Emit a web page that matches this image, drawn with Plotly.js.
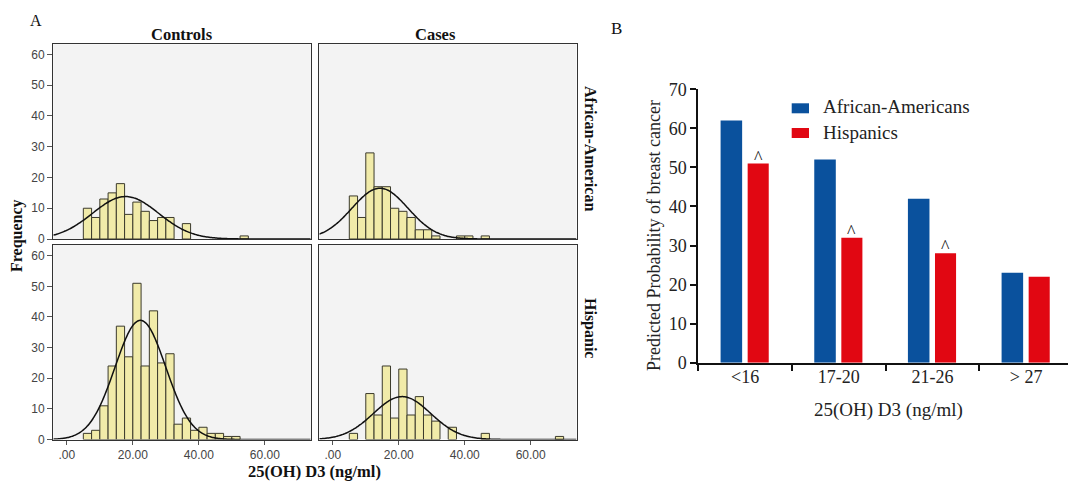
<!DOCTYPE html>
<html>
<head>
<meta charset="utf-8">
<script src="https://cdn.plot.ly/plotly-3.0.1.min.js"></script>
<style>html,body{margin:0;padding:0;background:#fff;}#chart{width:1068px;height:481px;}</style>
</head>
<body>
<div id="chart"></div>
<script>
// ---------- Panel A data (histograms, bin width 2.5) ----------
const binLefts = [5,7.5,10,12.5,15,17.5,20,22.5,25,27.5,30,32.5,35,37.5,40,42.5,45,47.5,50,52.5,55,57.5,60,62.5,65,67.5];
const controlsAfrAm = [10,7,13,15,18,8,12,9,6,7,7,0,5,0,0,0,0,0,0,1,0,0,0,0,0,0];
const casesAfrAm    = [14,7,28,17,17,10,9,7,3,3,1,0,0,1,1,0,1,0,0,0,0,0,0,0,0,0];
const controlsHisp  = [2,3,11,24,37,27,51,24,42,25,28,5,7,3,4,2,2,1,1,0,0,0,0,0,0,0];
const casesHisp     = [2,0,15,8,24,7,23,8,14,8,6,0,4,0,0,0,2,0,0,0,0,0,0,0,0,1];
// fitted normal curves: [mean, sd, peak height]
const fitControlsAfrAm = [17.8, 10.0, 13.8];
const fitCasesAfrAm    = [14.3, 8.5, 16.5];
const fitControlsHisp  = [22.3, 7.7, 38.9];
const fitCasesHisp     = [21.0, 8.7, 14.0];
const histTickVals = [0,20,40,60];
const histTickText = ['.00','20.00','40.00','60.00'];
const freqTickVals = [0,10,20,30,40,50,60];

// ---------- Panel B data ----------
const groups = ['<16','17-20','21-26','> 27'];
const africanAmericans = [62,52,42,23];
const hispanics = [51,32,28,22];
const significant = [true,true,true,false];

const BIN_W = 2.5;
const barFill = '#f1eba9';
const barLine = '#3b3a2c';
const blue = '#0a519d';
const red = '#e10712';

function histTrace(counts, xa, ya){
  const xs=[], ys=[];
  counts.forEach((c,i)=>{ if(c>0){ xs.push(binLefts[i]); ys.push(c);} });
  return {type:'bar', x:xs, y:ys, width:BIN_W, offset:0, xaxis:xa, yaxis:ya,
    marker:{color:barFill, line:{color:barLine, width:1}}, showlegend:false, hoverinfo:'x+y'};
}
function curveTrace(fit, xa, ya){
  const [m,s,p] = fit; const xs=[], ys=[];
  for(let x=-4.1; x<=73.9; x+=0.4){ xs.push(x); ys.push(p*Math.exp(-(x-m)*(x-m)/(2*s*s))); }
  return {type:'scatter', mode:'lines', x:xs, y:ys, xaxis:xa, yaxis:ya,
    line:{color:'#111', width:1.5, shape:'spline'}, showlegend:false, hoverinfo:'skip'};
}

const W=1068, H=481;
const px = v => v/W, py = v => 1 - v/H;

const traces = [
  histTrace(controlsAfrAm,'x','y'), curveTrace(fitControlsAfrAm,'x','y'),
  histTrace(casesAfrAm,'x2','y2'), curveTrace(fitCasesAfrAm,'x2','y2'),
  histTrace(controlsHisp,'x3','y3'), curveTrace(fitControlsHisp,'x3','y3'),
  histTrace(casesHisp,'x4','y4'), curveTrace(fitCasesHisp,'x4','y4'),
  {type:'bar', name:'African-Americans', x:groups, y:africanAmericans, xaxis:'x5', yaxis:'y5',
    width:0.23, offset:-0.262, marker:{color:blue}, showlegend:false},
  {type:'bar', name:'Hispanics', x:groups, y:hispanics, xaxis:'x5', yaxis:'y5',
    width:0.225, offset:0.027, marker:{color:red}, showlegend:false}
];

const frameX = (dom, anchor, showLabels) => ({
  domain:dom, anchor:anchor, range:[-4.1,73.9], showgrid:false, zeroline:false,
  showline:true, mirror:true, linecolor:'#333', linewidth:1.3,
  tickvals:histTickVals, ticktext:histTickText, showticklabels:showLabels,
  ticks: showLabels ? 'outside' : '', ticklen:4, tickcolor:'#555',
  tickfont:{family:'Liberation Sans, Arial, sans-serif', size:12, color:'#444'}
});
const frameY = (dom, anchor, top, showLabels) => ({
  domain:dom, anchor:anchor, range:[0,top], showgrid:false, zeroline:false,
  showline:true, mirror:true, linecolor:'#333', linewidth:1.3,
  tickvals:freqTickVals, showticklabels:showLabels,
  ticks: showLabels ? 'outside' : '', ticklen:5, tickcolor:'#555',
  tickfont:{family:'Liberation Sans, Arial, sans-serif', size:12, color:'#444'}
});

const xL=[px(53.3),px(310.7)], xR=[px(319.3),px(576.5)];
const yT=[py(239),py(44.3)], yB=[py(439.5),py(245)];

const serif = 'Liberation Serif, Times New Roman, serif';
function label(text, x, y, size, opts){
  return Object.assign({text:text, x:px(x), y:py(y), xref:'paper', yref:'paper', showarrow:false,
    xanchor:'center', yanchor:'middle', font:{family:serif, size:size, color:'#111'}}, opts||{});
}
const annotations = [
  label('A', 36, 20, 16),
  label('B', 616, 28, 17),
  label('<b>Controls</b>', 182, 34, 16.5),
  label('<b>Cases</b>', 435, 34, 16.5),
  label('<b>African-American</b>', 591, 148, 16, {textangle:90}),
  label('<b>Hispanic</b>', 590, 328, 16, {textangle:90}),
  label('<b>Frequency</b>', 17, 236, 16, {textangle:-90}),
  label('<b>25(OH) D3 (ng/ml)</b>', 314, 471, 16.5),
  label('Predicted Probability of breast cancer', 654, 236, 18, {textangle:-90, font:{family:serif,size:18,color:'#222'}}),
  label('25(OH) D3 (ng/ml)', 888, 410, 19, {font:{family:serif,size:19,color:'#222'}}),
  label('African-Americans', 821, 106, 19, {xanchor:'left', font:{family:serif,size:19,color:'#222'}}),
  label('Hispanics', 821, 132, 19, {xanchor:'left', font:{family:serif,size:19,color:'#222'}})
];
groups.forEach((g,i)=>{
  if(significant[i]) annotations.push({text:'^', x:g, y:hispanics[i], xref:'x5', yref:'y5', xshift:13, yshift:-6,
    xanchor:'center', yanchor:'bottom', showarrow:false, font:{family:serif,size:18,color:'#111'}});
});

const bgRect = (xa,ya) => ({type:'rect', xref:xa+' domain', yref:ya+' domain', x0:0,x1:1,y0:0,y1:1,
  fillcolor:'#f3f3f3', line:{width:0}, layer:'below'});
const shapes = [bgRect('x','y'), bgRect('x2','y2'), bgRect('x3','y3'), bgRect('x4','y4'),
  {type:'rect', xref:'paper', yref:'paper', x0:px(791.7), x1:px(809), y0:py(113.3), y1:py(103.3), fillcolor:blue, line:{width:0}},
  {type:'rect', xref:'paper', yref:'paper', x0:px(791.7), x1:px(809), y0:py(138), y1:py(128), fillcolor:red, line:{width:0}}
];

const layout = {
  width:W, height:H, margin:{l:0,r:0,t:0,b:0}, paper_bgcolor:'#fff', plot_bgcolor:'rgba(0,0,0,0)',
  barmode:'overlay', showlegend:false,
  xaxis: frameX(xL,'y',false), yaxis: frameY(yT,'x',63.3,true),
  xaxis2: frameX(xR,'y2',false), yaxis2: frameY(yT,'x2',63.3,false),
  xaxis3: frameX(xL,'y3',true), yaxis3: frameY(yB,'x3',63.5,true),
  xaxis4: frameX(xR,'y4',true), yaxis4: frameY(yB,'x4',63.5,false),
  xaxis5: {domain:[px(698.3),1], anchor:'y5', type:'category', range:[-0.5,3.447],
    showgrid:false, zeroline:false, showline:true, linecolor:'#111', linewidth:2,
    ticks:'outside', tickson:'boundaries', ticklen:6, tickwidth:2, tickcolor:'#111',
    ticklabelstandoff:-3,
    tickfont:{family:serif,size:18,color:'#222'}},
  yaxis5: {domain:[py(362.7),py(89.3)], anchor:'x5', range:[0,70], dtick:10,
    showgrid:false, zeroline:false, showline:true, linecolor:'#111', linewidth:2,
    ticks:'outside', ticklen:6, tickwidth:2, tickcolor:'#111',
    tickfont:{family:serif,size:18,color:'#222'}},
  shapes:shapes, annotations:annotations
};

Plotly.newPlot('chart', traces, layout, {displayModeBar:false, staticPlot:true});
</script>
</body>
</html>
